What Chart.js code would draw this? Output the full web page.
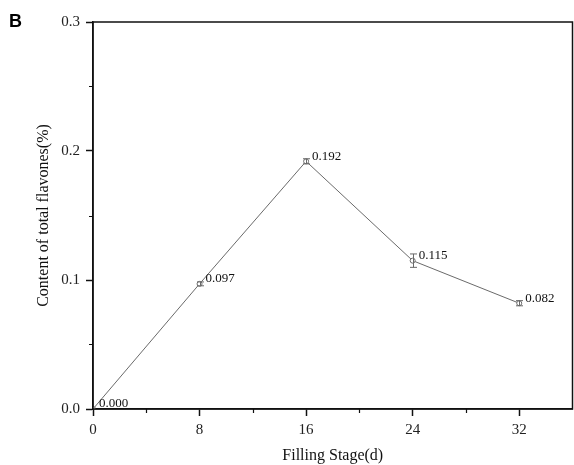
<!DOCTYPE html>
<html><head><meta charset="utf-8">
<script src="https://cdn.jsdelivr.net/npm/chart.js@4.4.1/dist/chart.umd.min.js"></script>
<style>html,body{margin:0;padding:0;background:#fff}#wrap{width:574px;height:465px}</style>
</head><body><div id="wrap"><canvas id="c" width="574" height="465"></canvas></div>
<script>
const stages = [0, 8, 16, 24, 32];
const flavones = [0.000, 0.097, 0.192, 0.115, 0.082];
const errors = [0.000, 0.0015, 0.002, 0.0052, 0.002];
const xMajorTicks = [0, 8, 16, 24, 32];
const xMinorTicks = [4, 12, 20, 28];
const yMajorTicks = [0, 0.1, 0.2, 0.3];
const yMinorTicks = [0.05, 0.15, 0.25];
const panelLabel = 'B';

const SERIF = '"Liberation Serif", "DejaVu Serif", serif';
const LINE = '#6a6a6a';

const extras = {
  id: 'extras',
  afterLayout(chart) {
    // keep plot area aligned with the reference frame
    const a = chart.chartArea;
    a.right = 572.5;
    a.width = a.right - a.left;
    const xs = chart.scales.x;
    xs.right = a.right; xs.width = a.right - xs.left;
    xs.configure && xs.configure();
  },
  afterDatasetsDraw(chart) {
    const ctx = chart.ctx, xs = chart.scales.x, ys = chart.scales.y, a = chart.chartArea;
    ctx.save();
    ctx.strokeStyle = LINE; ctx.lineWidth = 1;
    stages.forEach((s, i) => {
      if (!errors[i]) return;
      const px = Math.round(xs.getPixelForValue(s)) + 0.5;
      const yt = ys.getPixelForValue(flavones[i] + errors[i]);
      const yb = ys.getPixelForValue(flavones[i] - errors[i]);
      ctx.beginPath();
      ctx.moveTo(px, yt); ctx.lineTo(px, yb);
      ctx.moveTo(px - 3.5, yt); ctx.lineTo(px + 3.5, yt);
      ctx.moveTo(px - 3.5, yb); ctx.lineTo(px + 3.5, yb);
      ctx.stroke();
    });
    ctx.fillStyle = '#111';
    ctx.font = '13px ' + SERIF;
    ctx.textAlign = 'left'; ctx.textBaseline = 'middle';
    stages.forEach((s, i) => {
      const px = xs.getPixelForValue(s), py = ys.getPixelForValue(flavones[i]);
      ctx.fillText(flavones[i].toFixed(3), px + 6, py - 5);
    });
    ctx.strokeStyle = '#111'; ctx.lineWidth = 1.5;
    ctx.strokeRect(a.left, a.top, a.right - a.left, a.bottom - a.top);
    ctx.lineWidth = 1.2;
    ctx.beginPath();
    xMinorTicks.forEach(v => {
      const px = Math.round(xs.getPixelForValue(v)) + 0.5;
      ctx.moveTo(px, a.bottom); ctx.lineTo(px, a.bottom + 4);
    });
    yMinorTicks.forEach(v => {
      const py = Math.round(ys.getPixelForValue(v)) + 0.5;
      ctx.moveTo(a.left, py); ctx.lineTo(a.left - 4, py);
    });
    ctx.stroke();
    ctx.fillStyle = '#000';
    ctx.font = 'bold 18px "Liberation Sans", Arial, sans-serif';
    ctx.textAlign = 'left'; ctx.textBaseline = 'alphabetic';
    ctx.fillText(panelLabel, 9, 27);
    ctx.restore();
  }
};

new Chart(document.getElementById('c'), {
  type: 'line',
  data: {
    datasets: [{
      data: stages.map((s, i) => ({x: s, y: flavones[i]})),
      borderColor: LINE, borderWidth: 1,
      pointRadius: 2.5, pointBackgroundColor: '#fff', pointBorderColor: LINE, pointBorderWidth: 1,
      tension: 0, fill: false
    }]
  },
  options: {
    responsive: false, animation: false, devicePixelRatio: 1,
    layout: {padding: {top: 22, right: 1.5, left: 0, bottom: 0}},
    plugins: {legend: {display: false}, tooltip: {enabled: false}},
    scales: {
      x: {
        type: 'linear', min: 0, max: 36,
        afterBuildTicks(s) { s.ticks = xMajorTicks.map(v => ({value: v})); },
        afterFit(s) { s.height = 56; s.paddingRight = 0; s.paddingLeft = 0; },
        border: {display: true, color: '#111', width: 1.5},
        grid: {drawOnChartArea: false, drawTicks: true, tickLength: 7, tickColor: '#111', tickWidth: 1.5},
        ticks: {color: '#222', font: {family: SERIF, size: 15}, padding: 5, maxRotation: 0,
          callback: v => String(v)},
        title: {display: true, text: 'Filling Stage(d)', color: '#111',
          font: {family: SERIF, size: 16}, padding: {top: 0, bottom: 0}}
      },
      y: {
        type: 'linear', min: 0, max: 0.3,
        afterBuildTicks(s) { s.ticks = yMajorTicks.map(v => ({value: v})); },
        afterFit(s) { s.width = 93; s.paddingTop = 0; s.paddingBottom = 0; },
        border: {display: true, color: '#111', width: 1.5},
        grid: {drawOnChartArea: false, drawTicks: true, tickLength: 7, tickColor: '#111', tickWidth: 1.5},
        ticks: {color: '#222', font: {family: SERIF, size: 15}, padding: 6,
          callback: v => Number(v).toFixed(1)},
        title: {display: true, text: 'Content of total flavones(%)', color: '#111',
          font: {family: SERIF, size: 16}, padding: {top: 34, bottom: 0}}
      }
    }
  },
  plugins: [extras]
});
</script></body></html>
